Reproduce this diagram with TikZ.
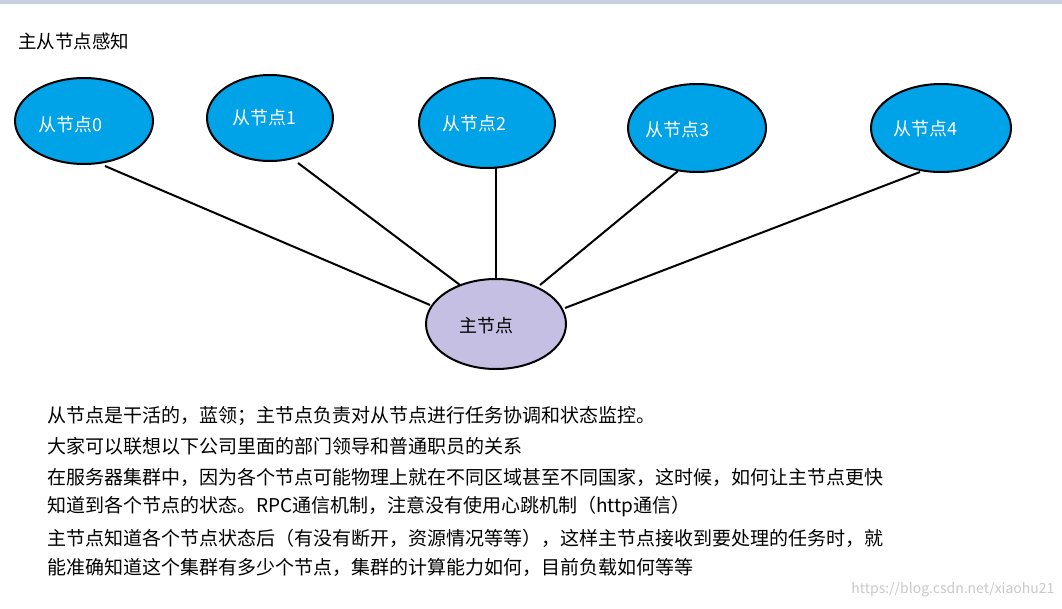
\documentclass[tikz,border=0pt]{standalone}
\usepackage{fontspec}
\newfontfamily\cjk{Noto Sans CJK SC}
\begin{document}
\begin{tikzpicture}[x=1pt,y=-1pt,
 slave/.style={draw=black,line width=2pt,fill={rgb,255:red,0;green,162;blue,232}},
 lab/.style={text=white,font=\cjk\fontsize{18}{20}\selectfont},
 txt/.style={anchor=west,font=\cjk\fontsize{19}{22}\selectfont,inner sep=0}]
\useasboundingbox (0,0) rectangle (1062,608);
\fill[fill={rgb,255:red,200;green,208;blue,224}] (0,0) rectangle (1062,4);
\node[txt,font=\cjk\fontsize{18.5}{22}\selectfont] (title) at (18,41) {主从节点感知};
\foreach \n/\x/\y/\rx/\ry in {0/84/121/69/43,1/270/118/63/43,2/487/123/68/45,3/697/128/69/44,4/941/128/70/44}{
  \draw[slave] (\x,\y) ellipse [x radius=\rx, y radius=\ry];
  \coordinate (s\n) at (\x,\y);
}
\draw[draw=black,line width=2pt,fill={rgb,255:red,197;green,191;blue,227}] (496,324) ellipse [x radius=70,y radius=45];
\coordinate (m) at (496,324);
\draw[line width=2pt] (105,166) -- (430,305);
\draw[line width=2pt] (298,163) -- (460,285);
\draw[line width=2pt] (496,168) -- (496,279);
\draw[line width=2pt] (678,171) -- (540,285);
\draw[line width=2pt] (920,172) -- (565,308);
\node[lab] (l0) at (70,125) {从节点0};
\node[lab] (l1) at (264,118) {从节点1};
\node[lab] (l2) at (474,124) {从节点2};
\node[lab] (l3) at (677,130) {从节点3};
\node[lab] (l4) at (925,129) {从节点4};
\node[lab,text=black] (lm) at (486,326) {主节点};
\node[txt] (t1) at (47,416) {从节点是干活的，蓝领；主节点负责对从节点进行任务协调和状态监控。};
\node[txt] (t2) at (47,446) {大家可以联想以下公司里面的部门领导和普通职员的关系};
\node[txt] (t3) at (47,477) {在服务器集群中，因为各个节点可能物理上就在不同区域甚至不同国家，这时候，如何让主节点更快};
\node[txt] (t4) at (47,507) {知道到各个节点的状态。RPC通信机制，注意没有使用心跳机制（http通信）};
\node[txt] (t5) at (47,538) {主节点知道各个节点状态后（有没有断开，资源情况等等），这样主节点接收到要处理的任务时，就};
\node[txt] (t6) at (47,567) {能准确知道这个集群有多少个节点，集群的计算能力如何，目前负载如何等等};
\node[anchor=east,text={rgb,255:red,200;green,200;blue,200},font=\cjk\fontsize{14}{16}\selectfont] (wm) at (1058,590) {https://blog.csdn.net/xiaohu21};
\end{tikzpicture}
\end{document}
